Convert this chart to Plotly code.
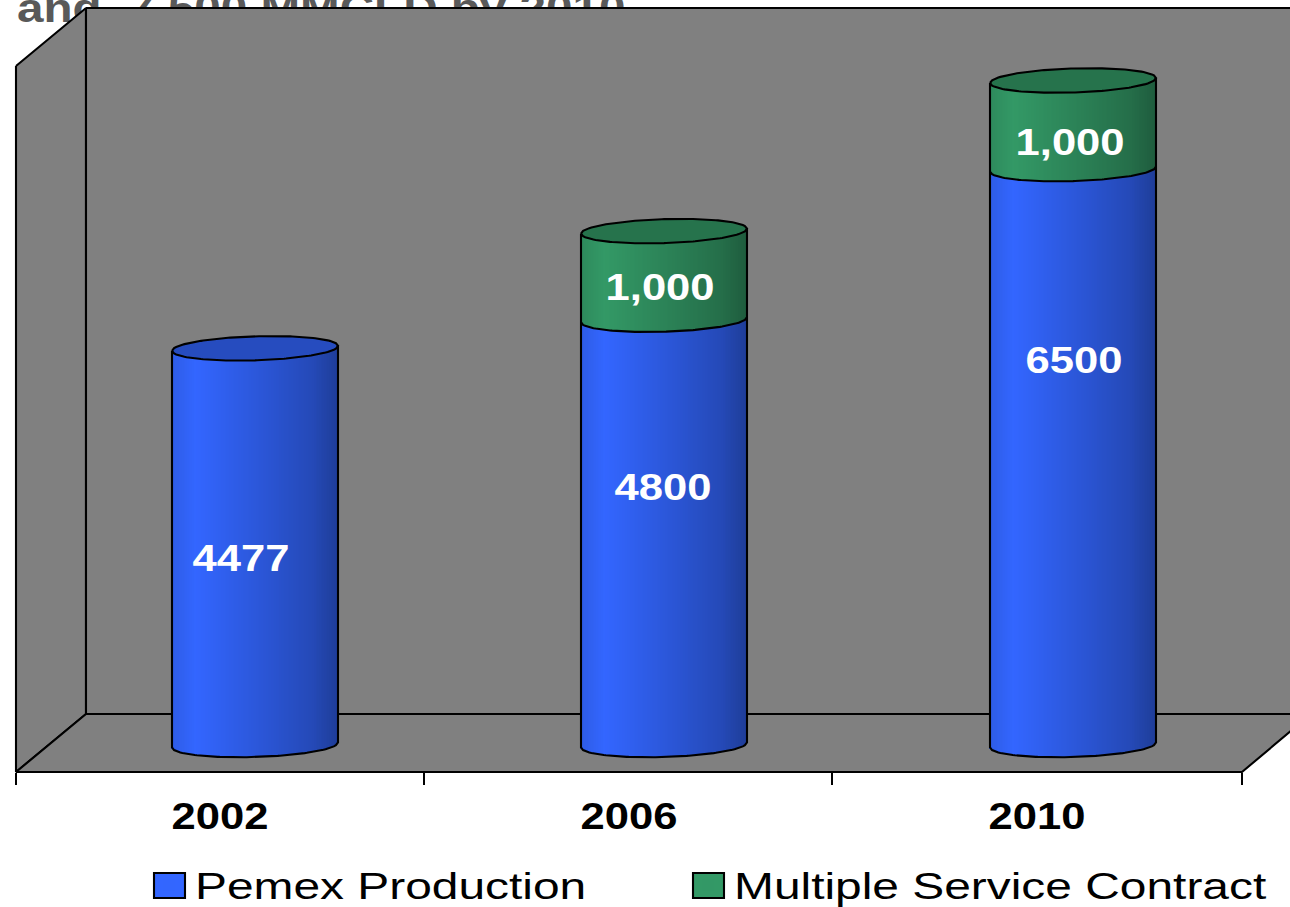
import math
import plotly.graph_objects as go

# ---- data ----
YEARS = ["2002", "2006", "2010"]
PEMEX = [4477, 4800, 6500]
MSC = [0, 1000, 1000]
SERIES_NAMES = ["Pemex Production", "Multiple Service Contract"]
TITLE = "and  7,500 MMCFD by 2010"

# ---- layout constants (page pixels) ----
W, H = 1290, 907
ZERO_PX, PX_PER_UNIT = 745.0, 0.0886
X0_PX, PX_PER_CAT = 255.0, 409.0
HALF = 83.0 / PX_PER_CAT
RY, TILT = 12.0, 2.5
BLUE, GREEN = (0x33, 0x66, 0xFF), (0x33, 0x99, 0x66)
LINE = "#000000"
LW = 2.1
FONT = "Liberation Sans"
LABEL_PX = {"pemex": [(241, 558), (663, 488), (1074, 360)],
            "msc": [None, (660, 288), (1070, 142)]}

def px(x, y):
    return x / W, 1 - y / H

def shade(rgb, f):
    return "rgb(%d,%d,%d)" % tuple(round(c * f) for c in rgb)

def factor(u):
    stops = [(-1, .90), (-.72, 1.0), (0, .86), (.7, .72), (1, .60)]
    for (a, fa), (b, fb) in zip(stops, stops[1:]):
        if u <= b:
            return fa + (fb - fa) * (u - a) / (b - a)
    return stops[-1][1]

def front(u):
    """front arc drop, in value units"""
    return (RY * math.sqrt(max(0, 1 - u * u)) - u * TILT) / PX_PER_UNIT

def back(u):
    return (-RY * math.sqrt(max(0, 1 - u * u)) - u * TILT) / PX_PER_UNIT

N = 100
US = [-1 + (2 * i + 1) / N for i in range(N)]
ORDER = sorted(range(N), key=lambda i: abs(US[i] + .72))

def slices(bases, heights, rgb):
    xs, ys, bs, cs = [], [], [], []
    for i in ORDER:
        u = US[i]
        for c, (b, h) in enumerate(zip(bases, heights)):
            if h <= 0:
                continue
            xs.append(c + u * HALF)
            ys.append(h)
            bs.append(b - front(u))
            cs.append(shade(rgb, factor(u)))
    return xs, ys, bs, cs

fig = go.Figure()

# clipped heading sits behind the chart walls
fig.add_trace(go.Scatter(x=[17], y=[12], mode="text", text=[TITLE], textposition="middle right",
                         textfont=dict(family=FONT, size=40, color="#595959", weight="bold"),
                         showlegend=False, hoverinfo="skip", xaxis="x", yaxis="y"))
# walls and floor
WALL = "#808080"
for poly in ([(16, 66), (86, 8), (86, 714), (16, 772)],
             [(16, 772), (86, 714), (1292, 714), (1292, 730), (1242, 772)],
             [(86, 8), (1292, 8), (1292, 714), (86, 714)]):
    xs, ys = zip(*(poly + poly[:1]))
    fig.add_trace(go.Scatter(x=xs, y=ys, mode="lines", fill="toself", fillcolor=WALL,
                             line=dict(color=LINE, width=LW), showlegend=False,
                             hoverinfo="skip", xaxis="x", yaxis="y"))

# cylinders
x1, y1, b1, c1 = slices([0, 0, 0], PEMEX, BLUE)
x2, y2, b2, c2 = slices(PEMEX, MSC, GREEN)
common = dict(width=(2 * HALF / N) * 1.15, xaxis="x2", yaxis="y2", hoverinfo="skip")
fig.add_trace(go.Bar(x=x1, y=y1, base=b1, name=SERIES_NAMES[0],
                     marker=dict(color=c1, line=dict(width=0)), **common))
fig.add_trace(go.Bar(x=x2, y=y2, base=b2, name=SERIES_NAMES[1],
                     marker=dict(color=c2, line=dict(width=0)), **common))

# caps and outlines, computed from the values
ARC = [-1 + 2 * i / 80 for i in range(81)]
for c in range(3):
    p, m = PEMEX[c], MSC[c]
    top = p + m
    rgb = GREEN if m > 0 else BLUE
    capx = [c + u * HALF for u in ARC] + [c + u * HALF for u in reversed(ARC)]
    capy = [top - front(u) for u in ARC] + [top - back(u) for u in reversed(ARC)]
    fig.add_trace(go.Scatter(x=capx, y=capy, mode="lines", fill="toself", fillcolor=shade(rgb, .75),
                             line=dict(color=LINE, width=LW), showlegend=False, hoverinfo="skip",
                             xaxis="x2", yaxis="y2"))
    ox = [c - HALF, c - HALF] + [c + u * HALF for u in ARC] + [c + HALF, c + HALF]
    oy = [top - front(-1), -front(-1)] + [-front(u) for u in ARC] + [-front(1), top - front(1)]
    if m > 0:
        ox += [None] + [c + u * HALF for u in ARC]
        oy += [None] + [p - front(u) for u in ARC]
    fig.add_trace(go.Scatter(x=ox, y=oy, mode="lines", line=dict(color=LINE, width=LW),
                             showlegend=False, hoverinfo="skip", xaxis="x2", yaxis="y2"))

# value labels
annotations = []
for vals, key, fmt in ((PEMEX, "pemex", "{}"), (MSC, "msc", "{:,}")):
    for v, pos in zip(vals, LABEL_PX[key]):
        if pos is None or v <= 0:
            continue
        ax, ay = px(*pos)
        annotations.append(dict(x=ax, y=ay, xref="paper", yref="paper", text=fmt.format(v),
                                showarrow=False, xanchor="center", yanchor="middle",
                                font=dict(family=FONT, size=36, color="#ffffff", weight="bold")))

# enlarged legend swatch frames
shapes = []
for (a, b), rgb in (((154, 185), BLUE), ((693, 724), GREEN)):
    xa, ya = px(a, 873)
    xb, yb = px(b, 898)
    shapes.append(dict(type="rect", xref="paper", yref="paper", x0=xa, x1=xb, y0=ya, y1=yb,
                       fillcolor=shade(rgb, 1), line=dict(color=LINE, width=LW), layer="above"))

to_x = lambda p: (p - X0_PX) / PX_PER_CAT
to_y = lambda p: (ZERO_PX - p) / PX_PER_UNIT
label_x = [to_x(p) for p in (220, 629, 1037)]
tick_x = [to_x(p) for p in (16, 424, 832, 1242)]

fig.update_layout(
    width=W, height=H, autosize=False, margin=dict(l=0, r=0, t=0, b=0, autoexpand=False),
    paper_bgcolor="#ffffff", plot_bgcolor="#ffffff", barmode="overlay", bargap=0,
    showlegend=True, annotations=annotations, shapes=shapes,
    font=dict(family=FONT, color="#000000"),
    xaxis=dict(range=[0, W], domain=[0, 1], visible=False, fixedrange=True),
    yaxis=dict(range=[H, 0], domain=[0, 1], visible=False, fixedrange=True),
    xaxis2=dict(overlaying="x", anchor="free", position=1 - 772 / H, side="bottom",
                range=[to_x(0), to_x(W)], showgrid=False, zeroline=False, showline=False,
                tickmode="array", tickvals=label_x, ticktext=YEARS, ticks="", ticklabelstandoff=20,
                tickfont=dict(family=FONT, size=36, color="#000000", weight="bold"),
                minor=dict(tickmode="array", tickvals=tick_x, ticks="outside", ticklen=12,
                           tickwidth=LW, tickcolor=LINE, showgrid=False)),
    yaxis2=dict(overlaying="y", range=[to_y(H), to_y(0)], visible=False, fixedrange=True),
    legend=dict(orientation="h", x=143 / W, xanchor="left", y=1 - 855 / H, yanchor="top",
                itemwidth=42, entrywidth=482, entrywidthmode="pixels", borderwidth=0,
                bgcolor="rgba(0,0,0,0)", itemclick=False, itemdoubleclick=False,
                font=dict(family=FONT, size=36, color="#000000")),
)

POST = """
document.body.style.margin='0';document.body.style.overflow='hidden';
document.querySelectorAll('.legend .scrollbox, .legend').forEach(function(e){e.removeAttribute('clip-path');});
function s(sel,f){document.querySelectorAll(sel).forEach(function(t){
 t.setAttribute('textLength',t.getComputedTextLength()*f);
 t.setAttribute('lengthAdjust','spacingAndGlyphs');});}
s('.legendtext',1.33);s('.annotation-text',1.21);s('.xtick text, .x2tick text',1.21);s('.textpoint text',1.19);
"""
fig.write_html("out.html", post_script=POST, config=dict(displayModeBar=False))
